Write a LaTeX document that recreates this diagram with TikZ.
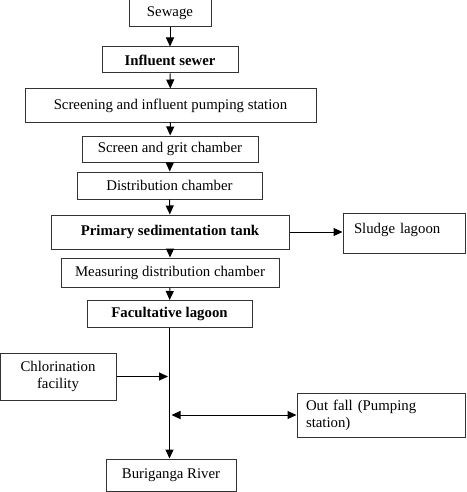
\documentclass[tikz,border=0pt]{standalone}
\usepackage{fontspec}
\setmainfont{Liberation Serif}
\usetikzlibrary{arrows.meta,positioning}

\begin{document}
\begin{tikzpicture}[x=1pt,y=-1pt,
	box/.style={rectangle, draw=black!80, line width=1pt, inner sep=0pt, font=\fontsize{14.8}{17}\selectfont},
	flow/.style={-{Triangle[width=8pt,length=9pt]}, line width=1pt},
	both/.style={{Triangle[width=8pt,length=9pt]}-{Triangle[width=8pt,length=9pt]}, line width=1pt}]
		\useasboundingbox (0,0) rectangle (466,492);

		% main chain
		\node[box, minimum width=82pt, minimum height=27pt] (sew) at (170,13.5) {Sewage};
		\node[box, minimum width=136pt, minimum height=26pt] (inf) at (170,60) {\textbf{Influent sewer}};
		\node[box, minimum width=291pt, minimum height=33pt] (scr) at (170.5,105.5) {Screening and influent pumping station};
		\node[box, minimum width=176pt, minimum height=26pt] (grit) at (170,149) {Screen and grit chamber};
		\node[box, minimum width=185pt, minimum height=27pt] (dist) at (169.5,185.5) {Distribution chamber};
		\node[box, minimum width=238pt, minimum height=34pt] (prim) at (170,232) {\textbf{Primary sedimentation tank}};
		\node[box, minimum width=218pt, minimum height=29pt] (meas) at (170,272.5) {Measuring distribution chamber};
		\node[box, minimum width=165pt, minimum height=27pt] (fac) at (169.5,314) {\textbf{Facultative lagoon}};
		\node[box, minimum width=130pt, minimum height=32pt] (buri) at (171,475) {Buriganga River};

		% side boxes
		\node[box, minimum width=122pt, minimum height=40pt, text width=100pt, align=left, text depth=9pt] (sludge) at (404,233) {Sludge lagoon};
		\node[box, minimum width=116pt, minimum height=47pt, align=center] (chl) at (58,376.5) {Chlorination\\facility};
		\node[box, minimum width=168pt, minimum height=44pt, text width=150pt, align=left] (out) at (381,415) {Out fall (Pumping\\station)};

		\draw[flow] (sew) -- (inf);
		\draw[flow] (inf) -- (scr);
		\draw[flow] (scr) -- (grit);
		\draw[flow] (grit) -- (dist);
		\draw[flow] (dist) -- (prim);
		\draw[flow] (prim) -- (meas);
		\draw[flow] (meas) -- (fac);
		\draw[flow] (prim.east) -- (sludge.west |- prim.east);

		\coordinate (chljoin) at ([xshift=-1.5pt]fac.south |- chl.east);
		\coordinate (outjoin) at ([xshift=2pt]fac.south |- out.west);
		\draw[flow] (fac.south) -- (fac.south |- buri.north);
		\draw[flow] (chl.east) -- (chljoin);
		\draw[both] (outjoin) -- (out.west);
\end{tikzpicture}
\end{document}
